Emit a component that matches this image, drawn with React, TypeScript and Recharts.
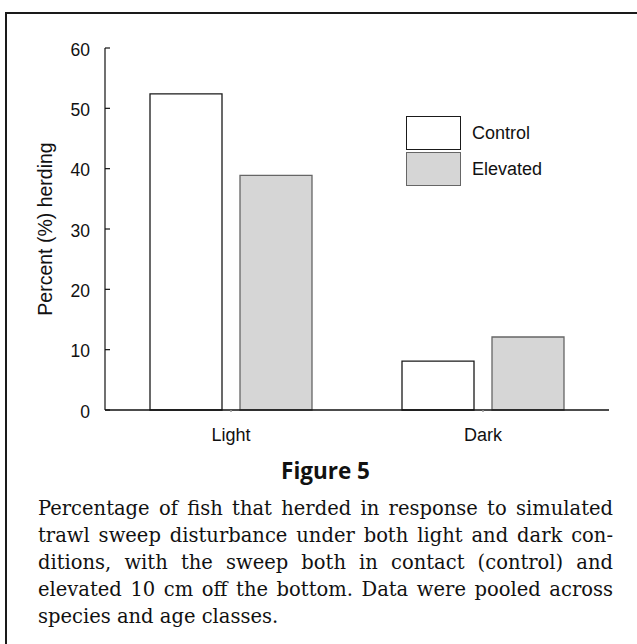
import React from 'react';
import { BarChart, Bar, XAxis, YAxis, Legend } from 'recharts';

const categories = ['Light', 'Dark'];
const controlValues = [52.4, 8.1];
const elevatedValues = [38.9, 12.1];
const yTicks = [0, 10, 20, 30, 40, 50, 60];
const seriesNames = ['Control', 'Elevated'];
const seriesFills = ['#ffffff', '#d6d6d6'];
const seriesStrokes = ['#1a1a1a', '#666666'];

const captionLines = [
  'Percentage of fish that herded in response to simulated',
  'trawl sweep disturbance under both light and dark con-',
  'ditions, with the sweep both in contact (control) and',
  'elevated 10 cm off the bottom. Data were pooled across',
  'species and age classes.',
];

const data = categories.map((c, i) => ({
  category: c,
  control: controlValues[i],
  elevated: elevatedValues[i],
}));

const SANS = '"Liberation Sans", Arial, Helvetica, sans-serif';

const YTick = (props: any) => {
  const { x, y, payload } = props;
  return (
    <g>
      <line x1={x} x2={x + 5} y1={y} y2={y} stroke="#111" strokeWidth={1.2} />
      <text x={x - 15} y={y} dy={7.5} textAnchor="end" fontSize={17.5} fontFamily={SANS} fill="#111">
        {payload.value}
      </text>
    </g>
  );
};

const YTitle = (props: any) => {
  const vb = props.viewBox || {};
  const cx = 45;
  const cy = vb.y + vb.height / 2;
  return (
    <text
      x={cx}
      y={cy}
      transform={`rotate(-90, ${cx}, ${cy})`}
      textAnchor="middle"
      dominantBaseline="central"
      fontSize={19.5}
      fontFamily={SANS}
      fill="#111"
    >
      Percent (%) herding
    </text>
  );
};

const LegendContent = () => (
  <div style={{ fontFamily: SANS, fontSize: 18, color: '#111' }}>
    {seriesNames.map((n, i) => (
      <div key={n} style={{ display: 'flex', alignItems: 'center', marginBottom: i === 0 ? 2 : 0 }}>
        <div
          style={{
            width: 53,
            height: 32,
            background: seriesFills[i],
            border: `1.5px solid ${seriesStrokes[i]}`,
          }}
        />
        <span style={{ marginLeft: 11 }}>{n}</span>
      </div>
    ))}
  </div>
);

export default function App() {
  return (
    <div
      style={{
        position: 'absolute',
        left: 0,
        top: 0,
        width: 637,
        height: 644,
        overflow: 'hidden',
        background: '#fff',
      }}
    >
      <div
        style={{
          position: 'absolute',
          left: 5,
          top: 12,
          width: 700,
          height: 700,
          borderLeft: '2px solid #1a1a1a',
          borderTop: '2px solid #1a1a1a',
        }}
      />
      <div style={{ position: 'absolute', left: 0, top: 0 }}>
        <BarChart
          width={637}
          height={450}
          data={data}
          margin={{ top: 48, right: 28, bottom: 0, left: 0 }}
          barSize={72}
          barGap={18}
        >
          <XAxis
            dataKey="category"
            height={40}
            stroke="#111"
            strokeWidth={1.5}
            tickSize={2}
            tickMargin={16}
            tickLine={{ stroke: '#999' }}
            tick={{ fontSize: 18, fontFamily: SANS, fill: '#111' }}
          />
          <YAxis
            width={105}
            domain={[0, 60]}
            ticks={yTicks}
            stroke="#111"
            strokeWidth={1.2}
            tickLine={false}
            tickSize={0}
            tickMargin={0}
            tick={<YTick />}
            label={{ content: <YTitle /> }}
          />
          <Legend
            layout="vertical"
            align="center"
            verticalAlign="middle"
            wrapperStyle={{ top: 116, left: 406, width: 'auto', height: 'auto' }}
            content={<LegendContent />}
          />
          <Bar
            dataKey="control"
            name={seriesNames[0]}
            fill={seriesFills[0]}
            stroke={seriesStrokes[0]}
            strokeWidth={1.3}
            isAnimationActive={false}
          />
          <Bar
            dataKey="elevated"
            name={seriesNames[1]}
            fill={seriesFills[1]}
            stroke={seriesStrokes[1]}
            strokeWidth={1.3}
            isAnimationActive={false}
          />
        </BarChart>
      </div>
      <div
        style={{
          position: 'absolute',
          left: 0,
          width: 651,
          top: 457,
          textAlign: 'center',
          fontFamily: '"Open Sans", "Noto Sans", sans-serif',
          fontWeight: 700,
          fontSize: 22.5,
          lineHeight: '28px',
          color: '#111',
        }}
      >
        Figure 5
      </div>
      <div
        style={{
          position: 'absolute',
          left: 38,
          top: 495,
          width: 575,
          fontFamily: '"DejaVu Serif", serif',
          fontSize: 19.5,
          lineHeight: '27px',
          color: '#111',
        }}
      >
        {captionLines.map((l, i) => (
          <div
            key={i}
            style={{
              textAlign: 'justify',
              textAlignLast: i < captionLines.length - 1 ? 'justify' : 'left',
            }}
          >
            {l}
          </div>
        ))}
      </div>
    </div>
  );
}
